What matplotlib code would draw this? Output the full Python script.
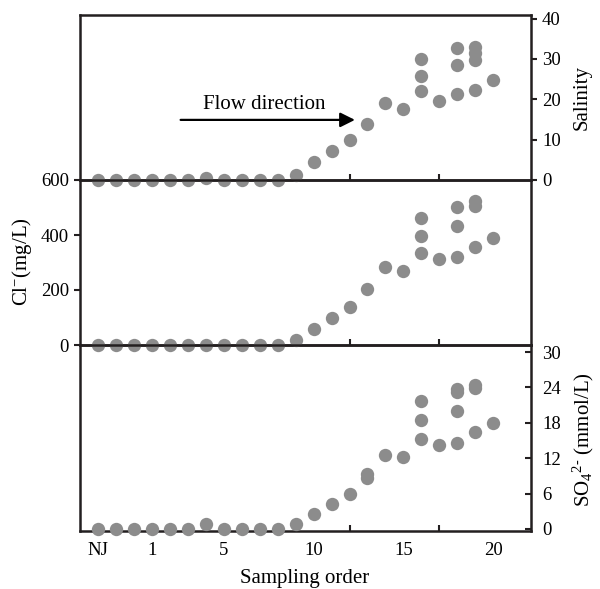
import matplotlib
matplotlib.use("Agg")
import matplotlib.pyplot as plt

plt.rcParams['font.family'] = ['Liberation Serif', 'DejaVu Serif']
plt.rcParams['mathtext.fontset'] = 'custom'
plt.rcParams['mathtext.rm'] = 'Liberation Serif'
plt.rcParams['mathtext.it'] = 'Liberation Serif:italic'

# sampling slots (0 = NJ, slot k+2 = sampling order k)
tick_pos = [0, 3, 7, 12, 17, 22]
tick_lab = ["NJ", "1", "5", "10", "15", "20"]

sal_x = [0, 1, 2, 3, 4, 5, 6, 7, 8, 9, 10, 11, 12, 13, 14, 15, 16, 17,
         18, 18, 18, 19, 20, 20, 20, 21, 21, 21, 21, 22]
sal_y = [0, 0, 0, 0, 0, 0, 0.4, 0, 0, 0, 0, 1.2, 4.4, 7.2, 9.9, 14.0, 19.2, 17.7,
         30.1, 25.8, 22.0, 19.7, 32.6, 28.5, 21.2, 32.9, 31.4, 29.8, 22.4, 24.7]

cl_x = [0, 1, 2, 3, 4, 5, 6, 7, 8, 9, 10, 11, 12, 13, 14, 15, 16, 17,
        18, 18, 18, 19, 20, 20, 20, 21, 21, 21, 22]
cl_y = [0, 0, 0, 0, 0, 0, 0, 0, 0, 0, 0, 17, 57, 100, 140, 204, 283, 268,
        462, 398, 334, 314, 502, 433, 319, 522, 505, 358, 390]

so4_x = [0, 1, 2, 3, 4, 5, 6, 7, 8, 9, 10, 11, 12, 13, 14, 15, 15, 16, 17,
         18, 18, 18, 19, 20, 20, 20, 20, 21, 21, 21, 22]
so4_y = [0, 0, 0, 0, 0, 0, 0.8, 0, 0, 0, 0, 0.8, 2.5, 4.3, 6.0, 8.6, 9.3, 12.5, 12.2,
         21.7, 18.5, 15.2, 14.3, 23.8, 23.2, 20.0, 14.5, 24.4, 23.9, 16.4, 18.0]

W, H = 600, 589
fig = plt.figure(figsize=(W / 100, H / 100), dpi=100)

def box(top, bottom, left=80, right=531):
    return [left / W, 1 - bottom / H, (right - left) / W, (bottom - top) / H]

ax1 = fig.add_axes(box(15, 180))
ax2 = fig.add_axes(box(180, 345))
ax3 = fig.add_axes(box(345, 531))

grey = '#8c8c8c'
spine_c = '#231f20'
for ax, xs, ys in [(ax1, sal_x, sal_y), (ax2, cl_x, cl_y), (ax3, so4_x, so4_y)]:
    ax.plot(xs, ys, 'o', color=grey, markersize=9.6, markeredgewidth=0, clip_on=False, zorder=3)
    ax.set_xlim(-1.0, 24.1)
    for s in ax.spines.values():
        s.set_linewidth(1.8)
        s.set_color(spine_c)
    ax.set_xticks(tick_pos)
    ax.set_xticks([14, 19], minor=True)
    ax.tick_params(axis='x', which='major', length=0, labelbottom=False)
    ax.tick_params(axis='x', which='minor', direction='in', length=4, width=1.5,
                   color=spine_c, bottom=True, top=False)
    ax.set_facecolor('none')

# salinity (right axis)
ax1.set_ylim(0, 40.9)
ax1.set_yticks([0, 10, 20, 30, 40])
ax1.yaxis.tick_right()
ax1.tick_params(axis='y', direction='out', length=4, width=1.5, color=spine_c,
                labelsize=13.5, pad=4)

# Cl- (left axis)
ax2.set_ylim(0, 600)
ax2.set_yticks([0, 200, 400, 600])
ax2.tick_params(axis='y', direction='out', length=4, width=1.5, color=spine_c,
                labelsize=13.5, pad=4)

# SO4 (right axis)
ax3.set_ylim(-0.34, 31.2)
ax3.set_yticks([0, 6, 12, 18, 24, 30])
ax3.yaxis.tick_right()
ax3.tick_params(axis='y', direction='in', length=4, width=1.5, color=spine_c,
                labelsize=13.5, pad=8)
ax3.tick_params(axis='x', which='major', labelbottom=True, labelsize=13.5, pad=8)
ax3.set_xticklabels(tick_lab)

# flow direction arrow
ax1.annotate('', xy=(14.3, 14.9), xytext=(4.6, 14.9),
             arrowprops=dict(arrowstyle='-|>', color='black', lw=1.6,
                             mutation_scale=22, shrinkA=0, shrinkB=0))
ax1.text(9.25, 18.7, 'Flow direction', ha='center', va='center', fontsize=15)

fig.text(582 / W, 1 - 97 / H, 'Salinity', rotation=90, ha='center', va='center', fontsize=15)
fig.text(22 / W, 1 - 262 / H, 'Cl$^{-}$(mg/L)', rotation=90, ha='center', va='center', fontsize=15)
fig.text(583 / W, 1 - 440 / H, 'SO$_{4}$$^{2\u2010}$ (mmol/L)', rotation=90, ha='center',
         va='center', fontsize=15)
fig.text(305 / W, 1 - 579 / H, 'Sampling order', ha='center', va='center', fontsize=15)

fig.savefig('out.png', dpi=100)
